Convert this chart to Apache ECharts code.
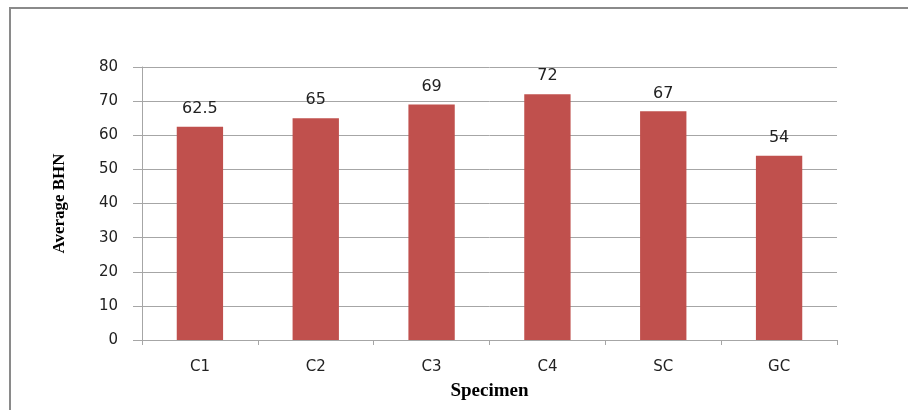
<!DOCTYPE html>
<html><head><meta charset="utf-8">
<script src="https://cdn.jsdelivr.net/npm/echarts@6/dist/echarts.min.js"></script>
<style>html,body{margin:0;padding:0;background:#fff}#c{width:908px;height:410px}</style>
</head><body><div id="c"></div>
<script>
const categories = ['C1','C2','C3','C4','SC','GC'];
const values = [62.5, 65, 69, 72, 67, 54];
const yTicks = [0, 10, 20, 30, 40, 50, 60, 70, 80];

const chart = echarts.init(document.getElementById('c'), null, {renderer:'canvas'});
chart.setOption({
  animation: false,
  backgroundColor: '#fff',
  graphic: [{type:'rect', shape:{x:10, y:8, width:1000, height:600}, style:{fill:'none', stroke:'#8a8a8a', lineWidth:2}, z:-1}],
  grid: {left:142, right:71, top:67, bottom:70},
  xAxis: {
    type:'category', data:categories,
    name:'Specimen', nameLocation:'middle', nameGap:42,
    nameTextStyle:{fontFamily:'Liberation Serif', fontWeight:'bold', fontSize:19, color:'#000'},
    axisLine:{lineStyle:{color:'#a6a6a6'}},
    axisTick:{show:true, length:5, lineStyle:{color:'#a6a6a6'}},
    axisLabel:{fontFamily:'DejaVu Sans', fontSize:15, color:'#222', margin:20}
  },
  yAxis: {
    type:'value', min:yTicks[0], max:yTicks[yTicks.length-1], interval:10,
    name:'Average BHN', nameLocation:'middle', nameGap:74, nameRotate:90,
    nameTextStyle:{fontFamily:'Liberation Serif', fontWeight:'bold', fontSize:17, color:'#000'},
    axisLine:{show:true, lineStyle:{color:'#a6a6a6'}},
    axisTick:{show:true, length:9, lineStyle:{color:'#a6a6a6'}},
    axisLabel:{fontFamily:'DejaVu Sans', fontSize:15, color:'#222', margin:24},
    splitLine:{lineStyle:{color:'#a6a6a6'}}
  },
  series: [{
    type:'bar', data:values, barWidth:'40%',
    itemStyle:{color:'#c0504d'},
    label:{show:true, position:'top', distance:10, fontFamily:'DejaVu Sans', fontSize:16, color:'#222'}
  }]
});
</script></body></html>
